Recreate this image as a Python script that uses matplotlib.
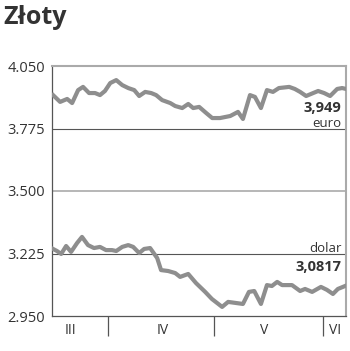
import matplotlib.pyplot as plt
import matplotlib.transforms as mtransforms

# days counted from 1 March (0 = 1 March)
euro_days = [15.4, 17.4, 19.4, 20.8, 22.5, 23.9, 25.6, 27.3, 28.7, 30.1, 31.6, 33.3, 35.0,
             36.7, 38.4, 39.8, 41.5, 43.2, 44.6, 46.3, 48.6, 50.0, 52.0, 53.7, 55.1, 56.8,
             58.8, 60.5, 62.7, 65.6, 67.8, 69.2, 71.2, 72.6, 74.3, 76.0, 77.7, 79.4, 82.3,
             83.9, 85.4, 87.1, 89.1, 90.5, 92.2, 93.9, 95.9, 97.3, 98.4]
euro_vals = [3.922, 3.892, 3.905, 3.887, 3.944, 3.958, 3.931, 3.931, 3.922, 3.940, 3.975,
             3.988, 3.966, 3.953, 3.944, 3.918, 3.936, 3.931, 3.922, 3.900, 3.887, 3.874,
             3.865, 3.883, 3.865, 3.870, 3.843, 3.821, 3.821, 3.830, 3.848, 3.817, 3.922,
             3.914, 3.865, 3.944, 3.936, 3.953, 3.958, 3.949, 3.936, 3.918, 3.931, 3.940,
             3.931, 3.918, 3.949, 3.953, 3.949]

usd_days = [15.4, 16.5, 17.7, 19.1, 20.5, 22.2, 23.6, 25.3, 27.0, 28.7, 30.4, 32.1, 33.3,
            35.0, 36.7, 38.1, 39.8, 41.2, 42.9, 44.9, 46.0, 48.0, 50.0, 51.4, 53.7, 55.9,
            58.5, 60.4, 63.3, 65.0, 69.2, 70.9, 72.4, 74.3, 76.0, 77.4, 78.9, 80.3, 83.1,
            85.4, 86.8, 88.8, 91.3, 93.0, 94.7, 96.1, 98.1]
usd_vals = [3.245, 3.236, 3.223, 3.258, 3.232, 3.271, 3.298, 3.262, 3.249, 3.254, 3.240,
            3.240, 3.236, 3.254, 3.262, 3.254, 3.227, 3.245, 3.249, 3.205, 3.152, 3.148,
            3.139, 3.122, 3.135, 3.095, 3.056, 3.025, 2.990, 3.012, 3.003, 3.056, 3.060,
            3.003, 3.086, 3.082, 3.100, 3.086, 3.086, 3.060, 3.069, 3.056, 3.078, 3.065,
            3.047, 3.069, 3.0817]

y_ticks = [2.950, 3.225, 3.500, 3.775, 4.050]
y_labels = ['2.950', '3.225', '3.500', '3.775', '4.050']
month_bounds = [31, 61, 92]
month_pos = [20.2, 46.6, 75.2, 95.3]
month_names = ['III', 'IV', 'V', 'VI']

plt.rcParams['font.family'] = ['Open Sans', 'DejaVu Sans']
line_col = '#8e8e8e'
dark = '#555555'
light = '#aaaaaa'
text_col = '#333333'

fig = plt.figure(figsize=(3.5, 3.51), dpi=100)
fig.text(0.01, 0.985, 'Złoty', fontsize=18, fontweight='bold', color=text_col,
         ha='left', va='top')

ax = fig.add_axes([52/350, 1-316/351, 294/350, 250/351])
ax.set_xlim(15.1, 98.4)
ax.set_ylim(2.950, 4.050)

# horizontal guide lines
ax.axhline(3.775, color=dark, lw=0.8, zorder=1)
ax.axhline(3.225, color=dark, lw=0.8, zorder=1)
ax.axhline(3.500, color=light, lw=1.2, zorder=1)

ax.plot(euro_days, euro_vals, color=line_col, lw=3, solid_joinstyle='round', zorder=3)
ax.plot(usd_days, usd_vals, color=line_col, lw=3, solid_joinstyle='round', zorder=3)

ax.spines['top'].set_color(light)
ax.spines['top'].set_linewidth(1.5)
ax.spines['right'].set_color(light)
ax.spines['right'].set_linewidth(1.5)
ax.spines['left'].set_color(dark)
ax.spines['left'].set_linewidth(0.9)
ax.spines['bottom'].set_color(dark)
ax.spines['bottom'].set_linewidth(0.9)

ax.set_yticks(y_ticks)
ax.set_yticklabels(y_labels, fontsize=10.5, color=text_col)
ax.tick_params(axis='y', length=0, pad=5)

ax.set_xticks(month_bounds)
ax.set_xticklabels([])
ax.tick_params(axis='x', which='major', length=14.5, width=0.9, color=dark, direction='out')
ax.set_xticks(month_pos, minor=True)
ax.set_xticklabels(month_names, minor=True, fontsize=10, color=text_col)
ax.tick_params(axis='x', which='minor', length=0, pad=5)

trans = mtransforms.blended_transform_factory(ax.transAxes, ax.transData)
ax.text(0.985, 3.865, '3,949', transform=trans, ha='right', va='center',
        fontsize=10.5, fontweight='bold', color=text_col)
ax.text(0.985, 3.799, 'euro', transform=trans, ha='right', va='center',
        fontsize=9.5, color=text_col)
ax.text(0.985, 3.249, 'dolar', transform=trans, ha='right', va='center',
        fontsize=9.5, color=text_col)
ax.text(0.985, 3.166, '3,0817', transform=trans, ha='right', va='center',
        fontsize=10.5, fontweight='bold', color=text_col)

plt.savefig('out.png', dpi=100)
plt.close()
